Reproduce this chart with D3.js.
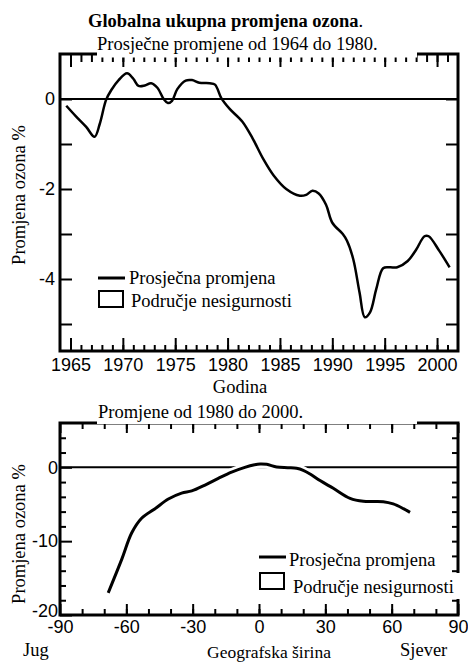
<!DOCTYPE html>
<html>
<head>
<meta charset="utf-8">
<script src="https://cdn.jsdelivr.net/npm/d3@7"></script>
<style>
  html, body { margin: 0; padding: 0; background: #fff; }
  svg { display: block; }
  .tick text { font-family: "Liberation Sans", Arial, sans-serif; font-size: 18px; fill: #000; }
  .tick line { stroke: #000; stroke-width: 2; }
</style>
</head>
<body>
<svg id="chart" width="468" height="662"></svg>
<script>
// Global total ozone change, 1964–2002 (percent)
const years = [1964.6, 1965.5, 1966.5, 1967.3, 1967.8, 1968.4, 1968.9, 1969.6, 1970.4, 1971.0,
  1971.5, 1972.1, 1972.7, 1973.3, 1973.9, 1974.3, 1974.7, 1975.2, 1976.0, 1976.6,
  1977.3, 1978.3, 1978.8, 1979.4, 1980.2, 1981.4, 1982.4, 1983.4, 1984.4, 1985.6,
  1986.9, 1987.5, 1988.1, 1988.7, 1989.4, 1990.0, 1991.0, 1991.4, 1992.0, 1992.6,
  1993.1, 1993.6, 1994.2, 1994.85, 1995.5, 1996.2, 1997.2, 1998.0, 1998.8, 1999.2,
  2000.2, 2001.2];
const ozoneChange = [-0.15, -0.38, -0.62, -0.84, -0.55, -0.02, 0.2, 0.42, 0.57, 0.45,
  0.29, 0.30, 0.35, 0.25, 0.0, -0.09, -0.04, 0.22, 0.41, 0.42,
  0.36, 0.35, 0.32, 0.02, -0.22, -0.5, -0.88, -1.33, -1.7, -2.0,
  -2.15, -2.13, -2.04, -2.1, -2.35, -2.75, -3.0, -3.15, -3.56, -4.3,
  -4.85, -4.74, -4.22, -3.76, -3.74, -3.74, -3.6, -3.35, -3.05, -3.05,
  -3.37, -3.74];

// Change by latitude, 1980–2000 (percent)
const latitudes = [-68.2, -62, -57.6, -53.1, -47, -41, -35, -30.4, -24.4, -18.4,
  -12.4, -6.4, -2, 0.5, 3.5, 8, 13, 17, 20, 23.1,
  27.6, 33.6, 41.2, 47.2, 56.2, 60.7, 65.3, 68.3];
const latChange = [-17.0, -12.4, -8.9, -6.9, -5.6, -4.3, -3.5, -3.2, -2.4, -1.5,
  -0.65, 0.0, 0.35, 0.45, 0.4, 0.05, -0.05, -0.13, -0.4, -0.9,
  -1.8, -2.84, -4.2, -4.6, -4.65, -4.96, -5.6, -6.1];
const latUncertainty = [0.6, 0.6, 0.6, 0.6, 0.6, 0.6, 0.6, 0.6, 0.6, 0.6,
  0.6, 0.6, 0.6, 0.6, 0.6, 0.6, 0.6, 0.6, 0.6, 0.6,
  0.6, 0.6, 0.6, 0.6, 0.6, 0.6, 0.6, 0.6];

// Tick values and labels
const yearTicks = [1965, 1970, 1975, 1980, 1985, 1990, 1995, 2000];
const yearMinorTicks = d3.range(1965, 2002);
const ozoneLabelTicks = [0, -2, -4];
const ozoneTicks = [0, -1, -2, -3, -4, -5];
const latTicks = [-90, -60, -30, 0, 30, 60, 90];
const latMinorTicks = d3.range(-80, 90, 10);
const latValueLabelTicks = [0, -10, -20];
const latValueMinorTicks = [4, 2, -2, -4, -6, -8, -12, -14, -16, -18];

const SERIF = '"Liberation Serif", "Times New Roman", Times, serif';
const plain = d => String(d);   // hyphen-minus, as printed on the axes

const svg = d3.select("#chart");

function clean(g) {
  g.select(".domain").remove();
  return g;
}

function serifText(x, y, txt, opts = {}) {
  const t = svg.append("text")
    .attr("font-family", SERIF).attr("font-size", opts.size || 18.5).attr("fill", "#000")
    .attr("x", x).attr("y", y).text(txt);
  if (opts.anchor) t.attr("text-anchor", opts.anchor);
  if (opts.weight) t.attr("font-weight", opts.weight);
  return t;
}

function legend(x0, yLine, yText1, yRect, yText2, textX1, textX2) {
  svg.append("line").attr("x1", x0).attr("x2", x0 + 27).attr("y1", yLine).attr("y2", yLine)
    .attr("stroke", "#000").attr("stroke-width", 3);
  serifText(textX1, yText1, "Prosječna promjena");
  svg.append("rect").attr("x", x0 + 1).attr("y", yRect).attr("width", 24).attr("height", 16)
    .attr("fill", "#fff").attr("stroke", "#000").attr("stroke-width", 2);
  serifText(textX2, yText2, "Područje nesigurnosti");
}

// ---------- Upper panel: ozone change by year ----------
const xT = d3.scaleLinear().domain([1964, 2002]).range([60, 458]);
const yT = d3.scaleLinear().domain([-5.6, 1.0]).range([351, 54]);

svg.append("g").attr("transform", "translate(0,351)")
  .call(d3.axisBottom(xT).tickValues(yearMinorTicks).tickSize(-6).tickFormat("")).call(clean);
svg.append("g").attr("transform", "translate(0,351)")
  .call(d3.axisBottom(xT).tickValues(yearTicks).tickSize(-13).tickPadding(7).tickFormat(plain)).call(clean);
svg.append("g").attr("transform", "translate(0,54)")
  .call(d3.axisTop(xT).tickValues(yearMinorTicks).tickSize(-8).tickFormat("")).call(clean);
svg.append("g").attr("transform", "translate(0,54)")
  .call(d3.axisTop(xT).tickValues(yearTicks).tickSize(-13).tickFormat("")).call(clean);
svg.append("g").attr("transform", "translate(60,0)")
  .call(d3.axisLeft(yT).tickValues(ozoneTicks).tickSize(-12).tickFormat("")).call(clean);
svg.append("g").attr("transform", "translate(60,0)")
  .call(d3.axisLeft(yT).tickValues(ozoneLabelTicks).tickSize(0).tickPadding(5).tickFormat(plain)).call(clean);
svg.append("g").attr("transform", "translate(458,0)")
  .call(d3.axisRight(yT).tickValues(ozoneTicks).tickSize(-12).tickFormat("")).call(clean);

svg.append("rect").attr("x", xT(1964)).attr("y", yT(1.0))
  .attr("width", xT(2002) - xT(1964)).attr("height", yT(-5.6) - yT(1.0))
  .attr("fill", "none").attr("stroke", "#000").attr("stroke-width", 3);

svg.append("line").attr("x1", xT(1964)).attr("x2", xT(2002)).attr("y1", yT(0)).attr("y2", yT(0))
  .attr("stroke", "#000").attr("stroke-width", 2);

const lineT = d3.line().x((d, i) => xT(years[i])).y(d => yT(d)).curve(d3.curveCatmullRom.alpha(0.5));
svg.append("path").attr("d", lineT(ozoneChange)).attr("fill", "none")
  .attr("stroke", "#000").attr("stroke-width", 2.5).attr("stroke-linejoin", "round");

// Titles
const title = svg.append("text").attr("font-family", SERIF).attr("font-size", 18.5)
  .attr("x", 88).attr("y", 27);
title.append("tspan").attr("font-weight", "bold").text("Globalna ukupna promjena ozona");
title.append("tspan").text(".");

svg.append("rect").attr("x", 97).attr("y", 35).attr("width", 320).attr("height", 22.5).attr("fill", "#fff");
serifText(97, 50, "Prosječne promjene od 1964 do 1980.");

serifText(0, 0, "Promjena ozona %", { anchor: "middle" })
  .attr("transform", "translate(25,195) rotate(-90)");
serifText(240, 393, "Godina", { anchor: "middle" });

legend(98, 278, 284, 291, 307, 129, 131);

// ---------- Lower panel: change by latitude ----------
const xB = d3.scaleLinear().domain([-90, 90]).range([60, 458]);
const yB = d3.scaleLinear().domain([-20, 6]).range([615, 423]);

svg.append("g").attr("transform", "translate(0,615)")
  .call(d3.axisBottom(xB).tickValues(latMinorTicks).tickSize(-6).tickFormat("")).call(clean);
svg.append("g").attr("transform", "translate(0,615)")
  .call(d3.axisBottom(xB).tickValues(latTicks).tickSize(-11).tickPadding(5).tickFormat(plain)).call(clean);
svg.append("g").attr("transform", "translate(0,423)")
  .call(d3.axisTop(xB).tickValues(latMinorTicks).tickSize(-6).tickFormat("")).call(clean);
svg.append("g").attr("transform", "translate(0,423)")
  .call(d3.axisTop(xB).tickValues(latTicks).tickSize(-10).tickFormat("")).call(clean);
svg.append("g").attr("transform", "translate(60,0)")
  .call(d3.axisLeft(yB).tickValues(latValueMinorTicks).tickSize(-6).tickFormat("")).call(clean);
svg.append("g").attr("transform", "translate(60,0)")
  .call(d3.axisLeft(yB).tickValues(latValueLabelTicks).tickSize(-12).tickPadding(2).tickFormat(plain))
  .call(clean)
  .call(g => g.selectAll("text").attr("dy", d => d === -20 ? "0.1em" : "0.32em"));
svg.append("g").attr("transform", "translate(458,0)")
  .call(d3.axisRight(yB).tickValues(latValueMinorTicks.concat([-10]))
    .tickSize(-6).tickFormat("")).call(clean);

svg.append("rect").attr("x", xB(-90)).attr("y", yB(6))
  .attr("width", xB(90) - xB(-90)).attr("height", yB(-20) - yB(6))
  .attr("fill", "none").attr("stroke", "#000").attr("stroke-width", 3);

svg.append("line").attr("x1", xB(-90)).attr("x2", xB(90)).attr("y1", yB(0)).attr("y2", yB(0))
  .attr("stroke", "#000").attr("stroke-width", 2);

// Uncertainty band (white fill) under the mean curve
const bandB = d3.area().x((d, i) => xB(latitudes[i]))
  .y0((d, i) => yB(d - latUncertainty[i])).y1((d, i) => yB(d + latUncertainty[i]))
  .curve(d3.curveCatmullRom.alpha(0.5));
svg.append("path").attr("d", bandB(latChange)).attr("fill", "#fff");

const lineB = d3.line().x((d, i) => xB(latitudes[i])).y(d => yB(d)).curve(d3.curveCatmullRom.alpha(0.5));
svg.append("path").attr("d", lineB(latChange)).attr("fill", "none")
  .attr("stroke", "#000").attr("stroke-width", 3).attr("stroke-linejoin", "round");

svg.append("rect").attr("x", 97).attr("y", 403).attr("width", 320).attr("height", 21).attr("fill", "#fff");
serifText(98, 418, "Promjene od 1980 do 2000.");

serifText(0, 0, "Promjena ozona %", { anchor: "middle" })
  .attr("transform", "translate(25,534) rotate(-90)");

svg.append("rect").attr("x", 289).attr("y", 573).attr("width", 178).attr("height", 26).attr("fill", "#fff");
legend(259, 557, 566, 573, 593, 289, 293);

serifText(23, 656, "Jug");
serifText(207, 658, "Geografska širina", { size: 17.5 });
serifText(400, 656, "Sjever");
</script>
</body>
</html>
